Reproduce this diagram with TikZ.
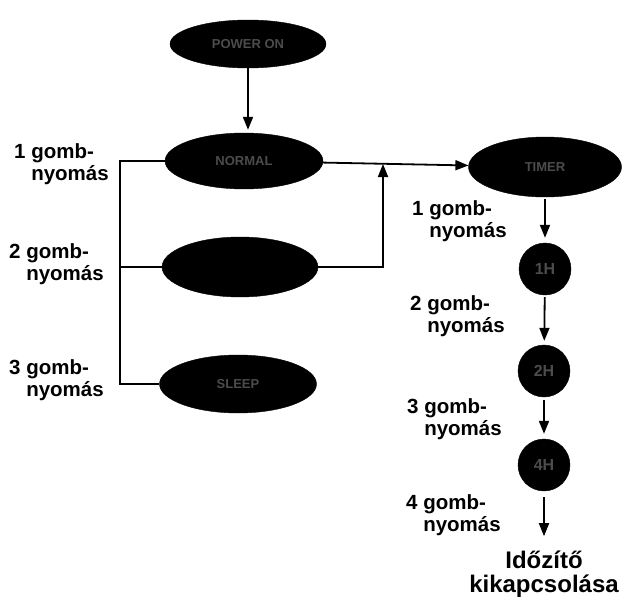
\documentclass[tikz,border=0pt]{standalone}
\usepackage{fontspec}
\setmainfont{Liberation Sans}
\usetikzlibrary{shapes.geometric,arrows.meta}
\newcommand\gombnyom[1]{#1 \begin{tabular}[t]{@{}l@{}}gomb-\\nyomás\end{tabular}}
\begin{document}
\begin{tikzpicture}[x=1pt,y=-1pt,
  oval/.style={ellipse,fill=black,draw=black,inner sep=0pt,minimum width=#1,
    font=\bfseries\fontsize{13}{13}\selectfont,text=black!70},
  circ/.style={circle,fill=black,draw=black,inner sep=0pt,minimum size=52pt,
    font=\bfseries\fontsize{16}{16}\selectfont,text=black!70},
  ln/.style={line width=1.8pt},
  arr/.style={line width=1.8pt,-{Triangle[length=13pt,width=10pt]}},
  lab/.style={anchor=base west,inner sep=0pt,font=\bfseries\fontsize{20.5}{22}\selectfont},
  endlab/.style={anchor=base,inner sep=0pt,font=\bfseries\fontsize{24}{24}\selectfont}]
\useasboundingbox (0,0) rectangle (627,597);

\node[oval=156pt, minimum height=48pt] (t)  at (248,44)  {POWER ON};
\node[oval=158pt, minimum height=56pt] (e2) at (244,161) {NORMAL};
\node[oval=156pt, minimum height=60pt] (e3) at (240,267) {};
\node[oval=157pt, minimum height=58pt] (e4) at (238,384) {SLEEP};
\node[oval=153pt, minimum height=60pt] (r)  at (545,167) {TIMER};
\node[circ] (c1) at (545,269) {1H};
\node[circ] (c2) at (544,371) {2H};
\node[circ] (c3) at (544,465) {4H};
\node[endlab] (end) at (544,568) {\begin{tabular}[t]{@{}c@{}}Időzítő\\kikapcsolása\end{tabular}};

\node[lab] (l1) at (14,158) {\gombnyom{1}};
\node[lab] (l2) at (9,258) {\gombnyom{2}};
\node[lab] (l3) at (9,374) {\gombnyom{3}};
\node[lab] (q1) at (412,215) {\gombnyom{1}};
\node[lab] (q2) at (410,310) {\gombnyom{2}};
\node[lab] (q3) at (407,413) {\gombnyom{3}};
\node[lab] (q4) at (406,509) {\gombnyom{4}};

\coordinate (b) at (120,0);
\coordinate (j) at (383,164);

\draw[arr,shorten >=3pt] (t.south) -- (t.south |- e2.north);
\draw[ln] (e2.west) -- (e2.west -| b) |- (e4.west);
\draw[ln] (e3.west) -- (e3.west -| b);
\draw[arr] (e2) -- (r);
\draw[arr] (e3.east) -| (j);
\draw[arr,shorten <=2pt,shorten >=5pt] (r) -- (c1);
\draw[arr,shorten <=2pt,shorten >=4pt] (c1) -- (c2);
\draw[arr,shorten <=3pt,shorten >=5pt] (c2) -- (c3);
\draw[arr,shorten <=6pt,shorten >=14pt] (c3) -- (end);
\end{tikzpicture}
\end{document}
